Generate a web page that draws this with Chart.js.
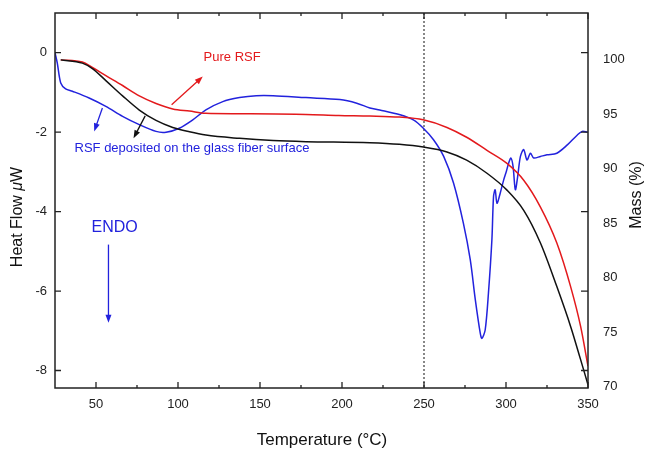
<!DOCTYPE html>
<html>
<head>
<meta charset="utf-8">
<script src="https://cdn.jsdelivr.net/npm/chart.js@4"></script>
<style>
  body { margin: 0; background: #fff; }
  canvas { display: block; }
</style>
</head>
<body>
<canvas id="dsc" width="648" height="451"></canvas>
<script>
// tick values
const tempTicks = [50, 100, 150, 200, 250, 300, 350];
const tempMinor = [75, 125, 175, 225, 275, 325];
const hfTicks = [0, -2, -4, -6, -8];
const massTicks = [70, 75, 80, 85, 90, 95, 100];

// Pure RSF, mass (%)
const redT = [28.5, 41.7, 47.8, 56, 66.2, 76.4, 86.6, 96.8, 107, 117, 137.5, 178, 198, 217, 235, 249.5, 264, 276, 288.4, 300.6, 310.8, 321, 331, 339.4, 345.5, 350];
const redMass = [100.0, 99.8, 99.3, 98.56, 97.65, 96.7, 96.0, 95.5, 95.3, 95.1, 95.06, 95.0, 94.9, 94.85, 94.75, 94.5, 93.8, 92.9, 91.7, 90.5, 88.96, 86.5, 83.2, 79.2, 75.55, 71.9];

// RSF on glass fiber, mass (%)
const blackT = [28.5, 41.7, 47.8, 56, 66.2, 76.4, 86.6, 96.8, 107, 117, 137.5, 158, 178, 217, 235, 249.6, 264, 276, 288.4, 300.6, 310.8, 321, 331, 339.4, 345.5, 350];
const blackMass = [100.0, 99.7, 99.2, 98.1, 96.7, 95.4, 94.45, 93.8, 93.4, 93.1, 92.8, 92.6, 92.5, 92.4, 92.25, 92.0, 91.55, 90.8, 89.6, 88.05, 86.2, 83.2, 79.2, 75.55, 72.5, 70.2];

// RSF on glass fiber, heat flow (uW)
const blueT = [25, 26.4, 28.5, 31.5, 35.6, 45.8, 56, 66.2, 76.4, 86.6, 92.7, 100.8, 109, 117, 127.3, 137.5, 147.7, 158, 178, 198.7, 209, 217, 223, 235.4, 243.5, 249.6, 255.8, 262, 268, 274, 278.2, 281.3, 284.3, 285.3, 287.3, 289.3, 291.4, 292.4, 293.4, 294.5, 296.5, 298.6, 300.2, 301.6, 303, 304.3, 305.7, 307.1, 308.8, 310.8, 312.8, 314.9, 316.9, 321, 325, 331, 337.4, 343.5, 346.5, 349.6];
const blueHF = [0.0, -0.26, -0.76, -0.91, -0.97, -1.14, -1.35, -1.6, -1.81, -1.98, -2.0, -1.9, -1.69, -1.44, -1.23, -1.13, -1.08, -1.08, -1.13, -1.18, -1.27, -1.39, -1.44, -1.56, -1.69, -1.9, -2.19, -2.61, -3.28, -4.29, -5.21, -6.22, -7.06, -7.19, -6.98, -6.05, -4.71, -3.62, -3.45, -3.79, -3.53, -3.2, -2.99, -2.78, -2.65, -2.86, -3.45, -3.12, -2.61, -2.44, -2.7, -2.53, -2.65, -2.61, -2.57, -2.53, -2.32, -2.07, -1.98, -2.0];

const RED = '#e3191c';
const BLUE = '#2222dd';
const BLACK = '#111111';
const FONT = '"Liberation Sans", Arial, sans-serif';

const pts = (xs, ys) => xs.map((x, i) => ({ x: x, y: ys[i] }));

function arrow(ctx, x1, y1, x2, y2, color) {
  const a = Math.atan2(y2 - y1, x2 - x1);
  const len = 8, w = 3;
  ctx.strokeStyle = color;
  ctx.fillStyle = color;
  ctx.lineWidth = 1.3;
  ctx.beginPath();
  ctx.moveTo(x1, y1);
  ctx.lineTo(x2 - len * 0.6 * Math.cos(a), y2 - len * 0.6 * Math.sin(a));
  ctx.stroke();
  ctx.beginPath();
  ctx.moveTo(x2, y2);
  ctx.lineTo(x2 - len * Math.cos(a) + w * Math.sin(a), y2 - len * Math.sin(a) - w * Math.cos(a));
  ctx.lineTo(x2 - len * Math.cos(a) - w * Math.sin(a), y2 - len * Math.sin(a) + w * Math.cos(a));
  ctx.closePath();
  ctx.fill();
}

const decor = {
  id: 'decor',
  beforeDatasetsDraw(chart) {
    const { ctx, chartArea: a, scales } = chart;
    const x250 = scales.x.getPixelForValue(250);
    ctx.save();
    ctx.strokeStyle = BLACK;
    ctx.lineWidth = 1;
    ctx.setLineDash([2, 2]);
    ctx.beginPath();
    ctx.moveTo(x250, a.top);
    ctx.lineTo(x250, a.bottom);
    ctx.stroke();
    ctx.restore();
  },
  afterDatasetsDraw(chart) {
    const { ctx, chartArea: a, scales } = chart;
    const X = v => scales.x.getPixelForValue(v);
    const Y = v => scales.y.getPixelForValue(v);
    ctx.save();
    // frame
    ctx.strokeStyle = '#222';
    ctx.lineWidth = 1.5;
    ctx.strokeRect(a.left, a.top, a.right - a.left, a.bottom - a.top);
    // inward ticks
    ctx.lineWidth = 1.3;
    ctx.beginPath();
    tempTicks.forEach(t => {
      const x = X(t);
      ctx.moveTo(x, a.bottom); ctx.lineTo(x, a.bottom - 6);
      ctx.moveTo(x, a.top); ctx.lineTo(x, a.top + 6);
    });
    tempMinor.forEach(t => {
      const x = X(t);
      ctx.moveTo(x, a.bottom); ctx.lineTo(x, a.bottom - 3);
      ctx.moveTo(x, a.top); ctx.lineTo(x, a.top + 3);
    });
    hfTicks.forEach(v => {
      const y = Y(v);
      ctx.moveTo(a.left, y); ctx.lineTo(a.left + 6, y);
      ctx.moveTo(a.right, y); ctx.lineTo(a.right - 7, y);
    });
    ctx.stroke();

    // annotations
    ctx.textBaseline = 'middle';
    ctx.font = '13px ' + FONT;
    ctx.fillStyle = RED;
    ctx.textAlign = 'center';
    ctx.fillText('Pure RSF', X(133), Y(-0.13));
    arrow(ctx, X(96.1), Y(-1.31), X(115.1), Y(-0.60), RED);

    ctx.fillStyle = BLUE;
    ctx.fillText('RSF deposited on the glass fiber surface', X(108.5), Y(-2.40));
    arrow(ctx, X(53.9), Y(-1.39), X(48.9), Y(-1.98), BLUE);
    arrow(ctx, X(80.0), Y(-1.59), X(72.9), Y(-2.15), BLACK);

    ctx.font = '16px ' + FONT;
    ctx.fillStyle = BLUE;
    ctx.textAlign = 'left';
    ctx.fillText('ENDO', X(47.3), Y(-4.39));
    arrow(ctx, X(57.6), Y(-4.83), X(57.6), Y(-6.80), BLUE);

    // axis titles
    ctx.fillStyle = '#111';
    ctx.textAlign = 'center';
    ctx.font = '17px ' + FONT;
    ctx.fillText('Temperature (°C)', (a.left + a.right) / 2 + 0.5, 440);

    ctx.save();
    ctx.translate(18, 217);
    ctx.rotate(-Math.PI / 2);
    ctx.font = '16px ' + FONT;
    const p1 = 'Heat Flow ', p2 = 'μ', p3 = 'W';
    const w1 = ctx.measureText(p1).width, w3 = ctx.measureText(p3).width;
    ctx.font = 'italic 16px ' + FONT;
    const w2 = ctx.measureText(p2).width;
    let sx = -(w1 + w2 + w3) / 2;
    ctx.textAlign = 'left';
    ctx.font = '16px ' + FONT;
    ctx.fillText(p1, sx, 0);
    ctx.font = 'italic 16px ' + FONT;
    ctx.fillText(p2, sx + w1, 0);
    ctx.font = '16px ' + FONT;
    ctx.fillText(p3, sx + w1 + w2, 0);
    ctx.restore();

    ctx.save();
    ctx.translate(637, 195);
    ctx.rotate(-Math.PI / 2);
    ctx.font = '16px ' + FONT;
    ctx.textAlign = 'center';
    ctx.fillText('Mass (%)', 0, 0);
    ctx.restore();

    ctx.restore();
  }
};

const tickFont = { family: FONT, size: 13 };
const noPad = s => { s.paddingTop = 0; s.paddingBottom = 0; s.paddingLeft = 0; s.paddingRight = 0; };

new Chart(document.getElementById('dsc'), {
  type: 'line',
  data: {
    datasets: [
      { label: 'RSF on glass fiber (mass)', data: pts(blackT, blackMass), yAxisID: 'y2', borderColor: BLACK, borderWidth: 1.5, pointRadius: 0, cubicInterpolationMode: 'monotone' },
      { label: 'Pure RSF', data: pts(redT, redMass), yAxisID: 'y2', borderColor: RED, borderWidth: 1.5, pointRadius: 0, cubicInterpolationMode: 'monotone' },
      { label: 'RSF on glass fiber (DSC)', data: pts(blueT, blueHF), yAxisID: 'y', borderColor: BLUE, borderWidth: 1.5, pointRadius: 0, tension: 0.3 }
    ]
  },
  options: {
    responsive: false,
    animation: false,
    layout: { padding: { top: 13, left: 0, right: 0, bottom: 0 } },
    plugins: { legend: { display: false }, tooltip: { enabled: false } },
    scales: {
      x: {
        type: 'linear', min: 25, max: 350,
        afterBuildTicks: s => { s.ticks = tempTicks.map(v => ({ value: v })); },
        afterFit: s => { s.height = 63; noPad(s); },
        grid: { display: false, drawTicks: false },
        border: { display: false },
        ticks: { font: tickFont, color: '#222', padding: 9, maxRotation: 0 }
      },
      y: {
        type: 'linear', position: 'left', min: -8.44, max: 1.0,
        afterBuildTicks: s => { s.ticks = hfTicks.map(v => ({ value: v })); },
        afterFit: s => { s.width = 55; noPad(s); },
        grid: { display: false, drawTicks: false },
        border: { display: false },
        ticks: { font: tickFont, color: '#222', padding: 8 }
      },
      y2: {
        type: 'linear', position: 'right', min: 69.9, max: 104.3,
        afterBuildTicks: s => { s.ticks = massTicks.map(v => ({ value: v })); },
        afterFit: s => { s.width = 60; noPad(s); },
        grid: { display: false, drawTicks: false },
        border: { display: false },
        ticks: { font: tickFont, color: '#222', padding: 15 }
      }
    }
  },
  plugins: [decor]
});
</script>
</body>
</html>
